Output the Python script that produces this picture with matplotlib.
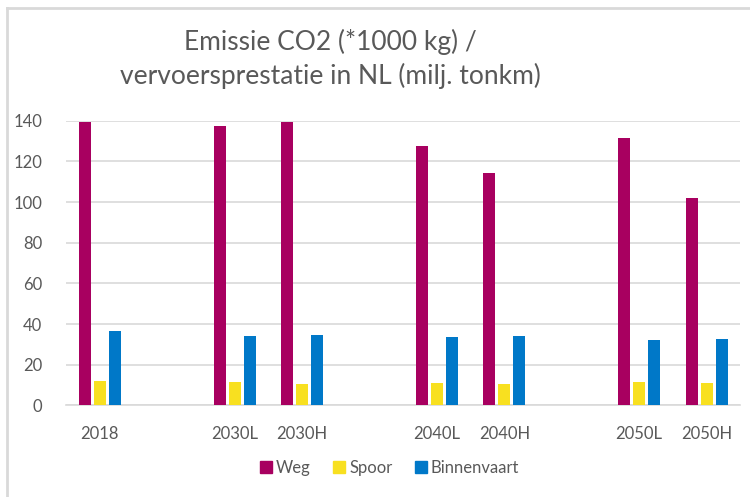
import matplotlib
matplotlib.use('Agg')
import matplotlib.pyplot as plt
import numpy
from matplotlib.lines import Line2D

plt.rcParams['font.family'] = ['Lato', 'DejaVu Sans']

# Categories (blank ones are spacers between the scenario groups)
categories = ['2018', '', '2030L', '2030H', '', '2040L', '2040H', '', '2050L', '2050H']
weg = [139.5, numpy.nan, 137.4, 139.6, numpy.nan, 127.5, 114.4, numpy.nan, 131.3, 102.1]
spoor = [11.8, numpy.nan, 11.4, 10.6, numpy.nan, 10.9, 10.4, numpy.nan, 11.4, 10.9]
binnenvaart = [36.8, numpy.nan, 34.2, 34.7, numpy.nan, 33.8, 34.2, numpy.nan, 31.9, 32.4]
series_names = ['Weg', 'Spoor', 'Binnenvaart']
y_ticks = [0, 20, 40, 60, 80, 100, 120, 140]

colors = ['#A80060', '#F8E020', '#0078C8']
text_color = '#595959'
grid_color = '#D9D9D9'

fig = plt.figure(figsize = (7.5, 4.97), dpi = 100)
ax = fig.add_axes([0.088, 0.1845, 0.899, 0.5725])

x = numpy.arange(len(categories))
width = 0.178
step = 0.222
for i, (vals, c) in enumerate(zip([weg, spoor, binnenvaart], colors)):
    ax.bar(x + (i - 1) * step, vals, width = width, color = c, label = series_names[i], zorder = 3)

ax.set_xlim(-0.5, len(categories) - 0.5)
ax.set_ylim(0, 140)
ax.set_yticks(y_ticks)
ax.set_xticks(x)
ax.set_xticklabels(categories)
ax.tick_params(axis = 'both', length = 0, labelsize = 12, colors = text_color)
ax.tick_params(axis = 'x', pad = 15)
ax.tick_params(axis = 'y', pad = 17)
ax.grid(axis = 'y', color = grid_color, linewidth = 1.2, zorder = 0)
for s in ['top', 'right', 'left']:
    ax.spines[s].set_visible(False)
ax.spines['bottom'].set_color(grid_color)
ax.spines['bottom'].set_linewidth(1.2)

# Title (two centred lines)
fig.text(0.44, 0.915, 'Emissie CO2 (*1000 kg) /', ha = 'center', va = 'center', fontsize = 19, color = text_color)
fig.text(0.44, 0.847, 'vervoersprestatie in NL (milj. tonkm)', ha = 'center', va = 'center', fontsize = 19, color = text_color)

# Legend
handles = [Line2D([0], [0], marker = 's', linestyle = 'none', markersize = 8, markerfacecolor = c, markeredgecolor = c) for c in colors]
fig.legend(handles, series_names, loc = 'center', bbox_to_anchor = (0.517, 0.058), ncol = 3, frameon = False,
           fontsize = 12, labelcolor = text_color, handletextpad = 0.0, columnspacing = 1.1, handlelength = 1.2)

# Chart area border (top and left visible)
fig.add_artist(Line2D([0.009, 1.0], [0.984, 0.984], color = grid_color, linewidth = 2, transform = fig.transFigure))
fig.add_artist(Line2D([0.009, 0.009], [0.0, 0.984], color = grid_color, linewidth = 2, transform = fig.transFigure))

fig.savefig('out.png', dpi = 100)
